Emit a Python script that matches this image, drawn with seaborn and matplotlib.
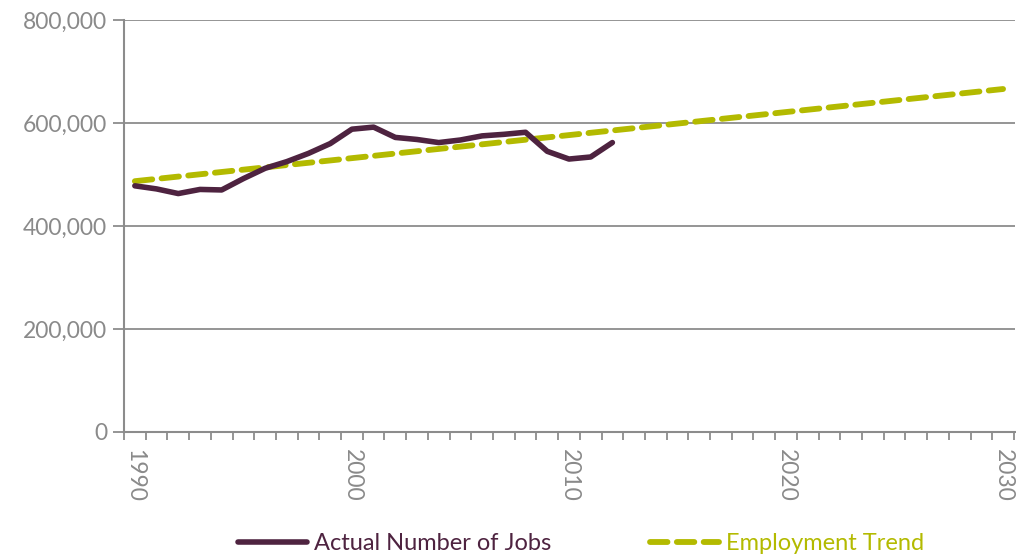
import matplotlib
matplotlib.use("Agg")
import matplotlib.pyplot as plt
import seaborn as sns
import pandas as pd
from matplotlib.ticker import FuncFormatter, FixedLocator

# ---- data ----
actual_years = list(range(1990, 2013))
actual_jobs = [478000, 472000, 463000, 471000, 470000, 492000, 512000, 525000,
               541000, 560000, 588000, 592000, 572000, 568000, 562000, 567000,
               575000, 578000, 582000, 545000, 530000, 534000, 562000]

trend_years = [1990, 2030]
trend_jobs = [487000, 666000]

x_tick_labels = ["1990", "2000", "2010", "2020", "2030"]
y_ticks = [0, 200000, 400000, 600000, 800000]

series_names = ["Actual Number of Jobs", "Employment Trend"]

# ---- style ----
sns.set_style("white")
plt.rcParams['font.family'] = ['Lato', 'DejaVu Sans']

plum = "#4E2340"
olive = "#B3BA00"
gray = "#8C8C8C"

fig = plt.figure(figsize=(10.16, 5.57), dpi=100)
ax = fig.add_axes([124/1016, 1-432/557, (1015-124)/1016, (432-20)/557])

df_a = pd.DataFrame({"year": actual_years, "jobs": actual_jobs})
df_t = pd.DataFrame({"year": trend_years, "jobs": trend_jobs})

sns.lineplot(data=df_t, x="year", y="jobs", ax=ax, color=olive, lw=4.2,
             label=series_names[1], zorder=3)
sns.lineplot(data=df_a, x="year", y="jobs", ax=ax, color=plum, lw=4.0,
             label=series_names[0], zorder=4)
ax.lines[0].set_dashes([3.0, 1.6])
ax.lines[0].set_dash_capstyle("round")
ax.lines[1].set_solid_capstyle("round")
ax.lines[1].set_solid_joinstyle("round")

ax.set_xlim(1989.5, 2030.55)
ax.set_ylim(0, 800000)

ax.set_yticks(y_ticks)
ax.yaxis.set_major_formatter(FuncFormatter(lambda v, p: f"{int(v):,}"))
ax.grid(axis="y", color=gray, lw=1.3)
ax.grid(axis="x", visible=False)
ax.set_axisbelow(True)

ax.set_xticks([int(s) for s in x_tick_labels])
ax.set_xticklabels(x_tick_labels, rotation=270)
ax.xaxis.set_minor_locator(FixedLocator([1989.5 + k for k in range(42)]))

ax.tick_params(axis="y", which="major", length=8, width=1.3, color=gray,
               labelcolor="#8A8A8A", labelsize=16.5, pad=4, direction="out", left=True)
ax.tick_params(axis="x", which="major", length=0, labelcolor="#8A8A8A",
               labelsize=16.5, pad=12)
ax.tick_params(axis="x", which="minor", length=6, width=1.3, color=gray,
               direction="out", bottom=True)

for s in ["top", "right"]:
    ax.spines[s].set_visible(False)
for s in ["left", "bottom"]:
    ax.spines[s].set_color(gray)
    ax.spines[s].set_linewidth(1.5)

ax.set_xlabel("")
ax.set_ylabel("")

handles, labels = ax.get_legend_handles_labels()
order = [labels.index(series_names[0]), labels.index(series_names[1])]
leg = ax.legend([handles[i] for i in order], [labels[i] for i in order],
                loc="center", bbox_to_anchor=(581/1016, 1-544/557),
                bbox_transform=fig.transFigure, ncol=2, frameon=False,
                prop={"family": ["Lato", "DejaVu Sans"], "size": 17, "weight": "normal"},
                handlelength=2.9, handletextpad=0.3, columnspacing=4.2)
for txt, col in zip(leg.get_texts(), [plum, olive]):
    txt.set_color(col)

fig.savefig("out.png", dpi=100)
